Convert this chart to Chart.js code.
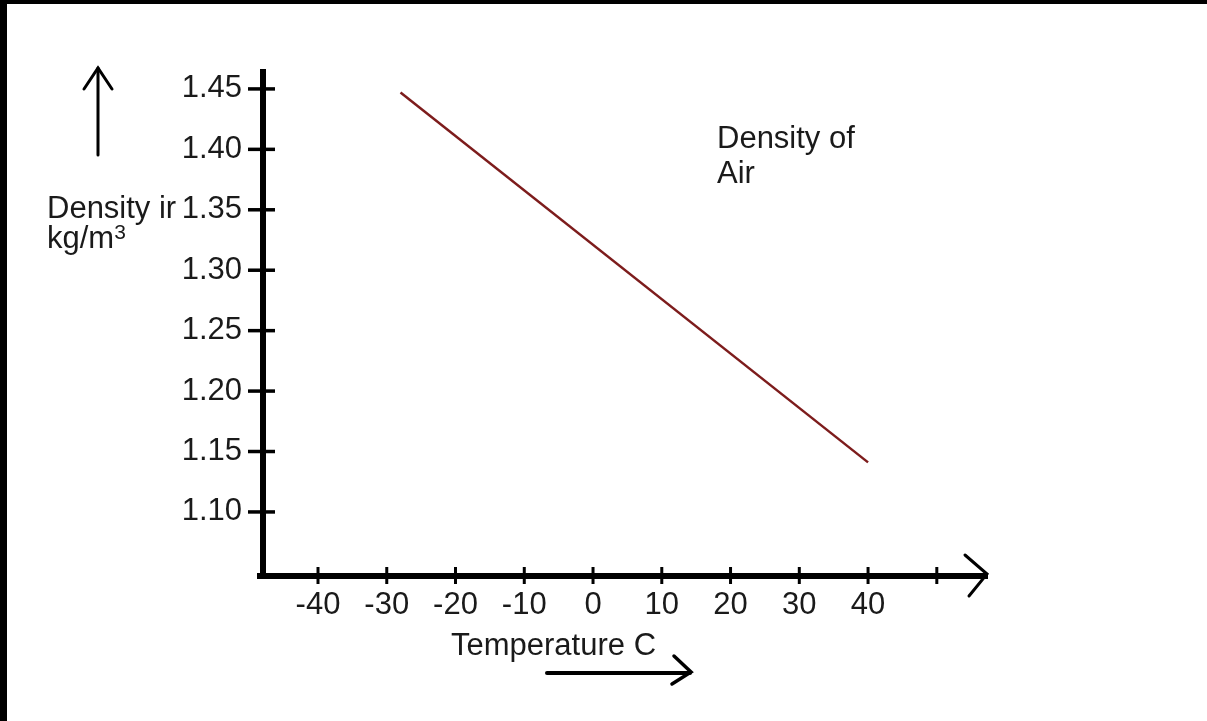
<!DOCTYPE html>
<html>
<head>
<meta charset="utf-8">
<title>Density of Air</title>
<script src="https://cdn.jsdelivr.net/npm/chart.js@4.4.1/dist/chart.umd.min.js"></script>
<style>
    html, body { margin: 0; padding: 0; background: #fff; }
    .wrap { position: relative; width: 1207px; height: 721px; }
    .frame-top { position: absolute; left: 0; top: 0; width: 1207px; height: 4px; background: #000; }
    .frame-left { position: absolute; left: 0; top: 0; width: 7px; height: 721px; background: #000; }
</style>
</head>
<body>
<div class="wrap">
    <canvas id="densityChart"></canvas>
    <div class="frame-top"></div>
    <div class="frame-left"></div>
</div>
<script>
    // values
    const temperature = [-28, 40];
    const density = [1.447, 1.141];
    const xTicks = [-40, -30, -20, -10, 0, 10, 20, 30, 40, 50];
    const yTicks = [1.10, 1.15, 1.20, 1.25, 1.30, 1.35, 1.40, 1.45];

    const FONT = "'Liberation Sans', Arial, sans-serif";
    Chart.defaults.font.family = FONT;
    Chart.defaults.color = '#1a1a1a';

    function strokePath(ctx, pts, width) {
        ctx.beginPath();
        ctx.moveTo(pts[0][0], pts[0][1]);
        for (let i = 1; i < pts.length; i++) ctx.lineTo(pts[i][0], pts[i][1]);
        ctx.lineWidth = width;
        ctx.stroke();
    }

    // hand drawn bits: crossing ticks, arrows and loose labels
    const sketchPlugin = {
        id: 'sketch',
        afterDraw: function (chart) {
            const ctx = chart.ctx;
            const area = chart.chartArea;
            const xs = chart.scales.x;
            const ys = chart.scales.y;
            ctx.save();
            ctx.strokeStyle = '#000';
            ctx.lineCap = 'butt';

            // corner where axes meet
            ctx.fillStyle = '#000';
            ctx.fillRect(area.left - 6, area.bottom - 3, 9, 6);

            xTicks.forEach(function (v) {
                const px = xs.getPixelForValue(v);
                strokePath(ctx, [[px, area.bottom - 9], [px, area.bottom + 8]], 3);
            });
            yTicks.forEach(function (v) {
                const py = ys.getPixelForValue(v);
                strokePath(ctx, [[area.left - 15, py], [area.left + 12, py]], 3.5);
            });

            // x axis arrow head
            ctx.lineCap = 'round';
            strokePath(ctx, [[area.right - 22, area.bottom - 21], [area.right, area.bottom - 2], [area.right - 18, area.bottom + 20]], 3);

            // up arrow
            strokePath(ctx, [[98, 155], [98, 68]], 3);
            strokePath(ctx, [[84, 89], [98, 68], [112, 89]], 3);

            // right arrow under x title
            strokePath(ctx, [[547, 673], [690, 673]], 4);
            strokePath(ctx, [[674, 656], [691, 672], [672, 684]], 3.5);

            ctx.fillStyle = '#1a1a1a';
            ctx.textAlign = 'left';
            ctx.textBaseline = 'alphabetic';
            ctx.font = '31px ' + FONT;
            ctx.fillText('Density ir', 47, 218);
            ctx.fillText('kg/m', 47, 248);
            const w = ctx.measureText('kg/m').width;
            ctx.font = '21px ' + FONT;
            ctx.fillText('3', 47 + w, 239);

            ctx.font = '31px ' + FONT;
            ctx.fillText('Density of', 717, 148);
            ctx.fillText('Air', 717, 183);
            ctx.fillText('Temperature C', 451, 655);
            ctx.restore();
        }
    };

    const ctx = document.getElementById('densityChart').getContext('2d');
    const densityChart = new Chart(ctx, {
        type: 'scatter',
        data: {
            datasets: [{
                label: 'Density of Air',
                data: temperature.map(function (t, i) { return { x: t, y: density[i] }; }),
                showLine: true,
                borderColor: 'rgb(125, 28, 28)',
                borderWidth: 2.5,
                pointRadius: 0,
                fill: false
            }]
        },
        options: {
            responsive: true,
            maintainAspectRatio: false,
            animation: false,
            layout: {
                padding: { left: 0, top: 72, right: 220, bottom: 0 }
            },
            plugins: {
                legend: { display: false },
                tooltip: { enabled: false }
            },
            scales: {
                x: {
                    type: 'linear',
                    min: -48,
                    max: 57.3,
                    afterBuildTicks: function (scale) {
                        scale.ticks = xTicks.map(function (v) { return { value: v }; });
                    },
                    afterFit: function (scale) { scale.height = 145; },
                    grid: { display: false },
                    border: { display: true, color: '#000', width: 6 },
                    ticks: {
                        autoSkip: false,
                        maxRotation: 0,
                        padding: 3,
                        font: { size: 31 },
                        callback: function (v) { return v === 50 ? '' : String(v); }
                    }
                },
                y: {
                    type: 'linear',
                    min: 1.047,
                    max: 1.464,
                    afterBuildTicks: function (scale) {
                        scale.ticks = yTicks.map(function (v) { return { value: v }; });
                    },
                    afterFit: function (scale) { scale.width = 263; },
                    grid: { display: false },
                    border: { display: true, color: '#000', width: 6 },
                    ticks: {
                        autoSkip: false,
                        padding: 13,
                        font: { size: 31 },
                        callback: function (v) { return Number(v).toFixed(2); }
                    }
                }
            }
        },
        plugins: [sketchPlugin]
    });
</script>
</body>
</html>
